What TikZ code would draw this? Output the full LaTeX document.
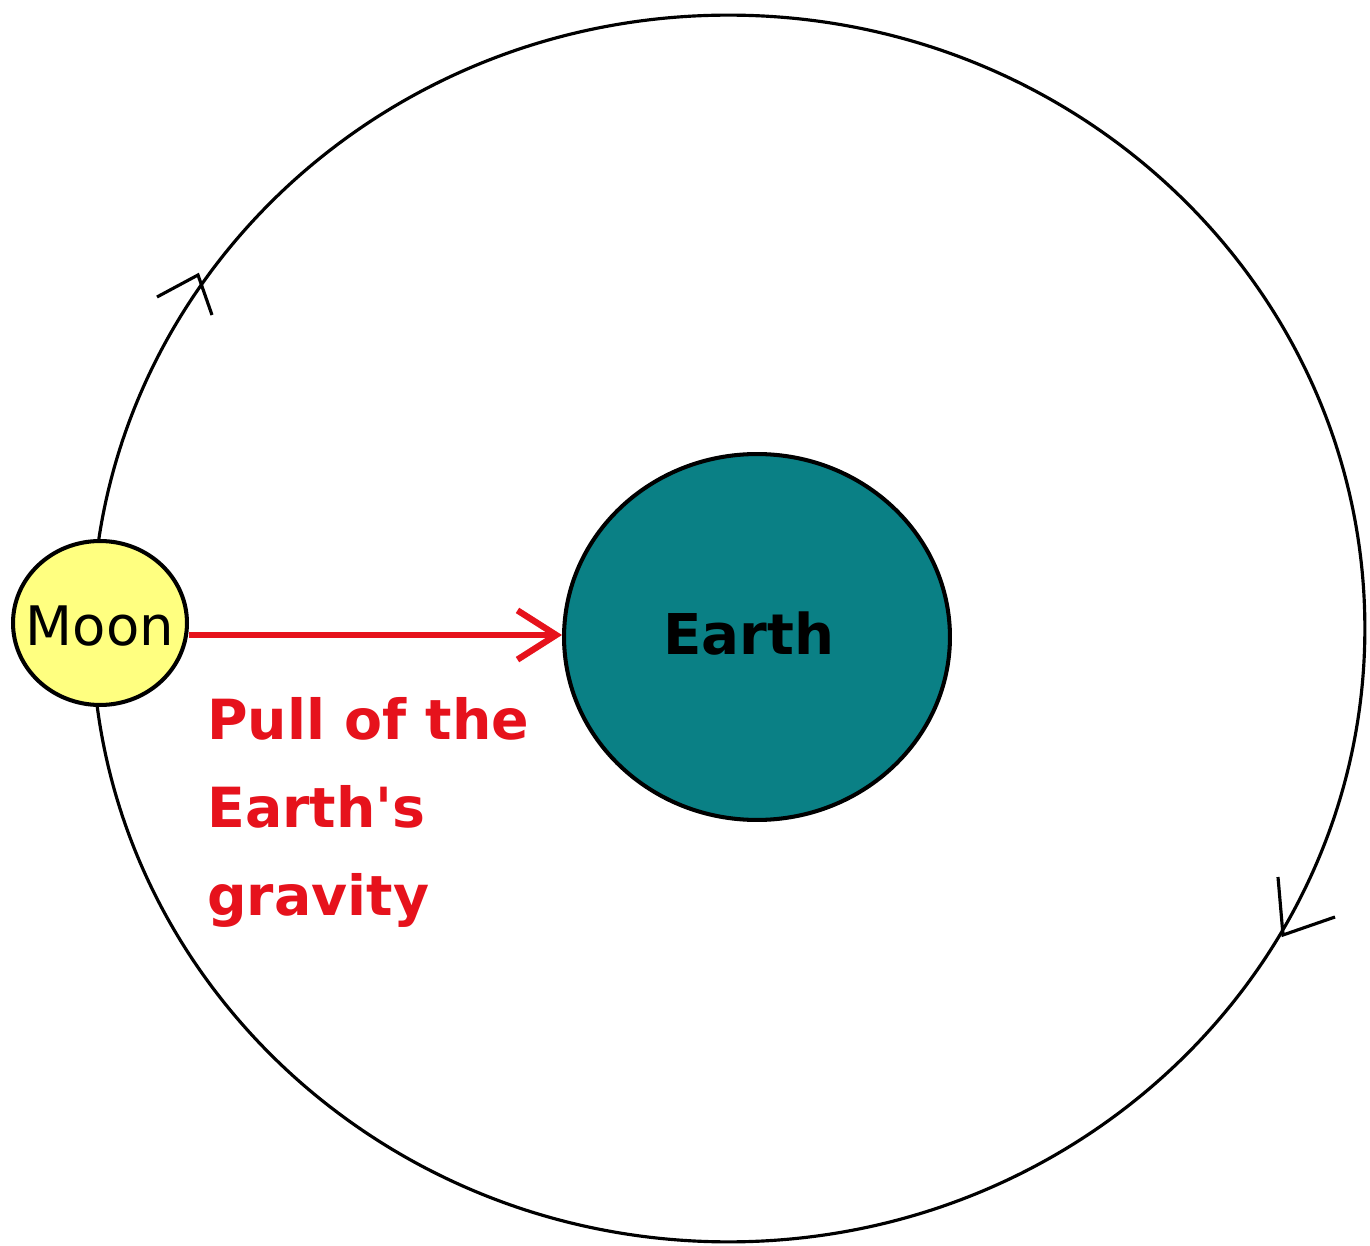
\documentclass[tikz,border=0pt]{standalone}
\usepackage{fontspec}
\setmainfont{DejaVu Sans}
\usetikzlibrary{shapes.geometric,arrows.meta}
\definecolor{earthteal}{RGB}{10,128,133}
\definecolor{moonyellow}{RGB}{255,255,128}
\definecolor{pullred}{RGB}{230,18,28}
\begin{document}
\begin{tikzpicture}[x=0.02cm,y=-0.02cm,
  orbitline/.style={ellipse,draw=black,line width=1.8pt,inner sep=0pt,
    minimum width=25.46cm,minimum height=24.54cm},
  moonbody/.style={ellipse,draw=black,line width=2.3pt,fill=moonyellow,inner sep=0pt,
    minimum width=3.48cm,minimum height=3.28cm},
  earthbody/.style={ellipse,draw=black,line width=2.3pt,fill=earthteal,inner sep=0pt,
    minimum width=7.72cm,minimum height=7.32cm},
  moontext/.style={inner sep=0pt,font=\fontsize{31}{31}\selectfont},
  earthtext/.style={inner sep=0pt,font=\fontsize{32}{32}\selectfont\bfseries},
  pullarrow/.style={draw=pullred,line width=3.6pt,
    -{Straight Barb[length=22pt,width=28pt,line width=3.6pt]}},
  pulltext/.style={text=pullred,align=left,inner sep=0pt,
    font=\fontsize{31.5}{50}\selectfont\bfseries},
  barb/.style={draw=black,line width=1.8pt}]
\useasboundingbox (0,0) rectangle (1370,1246);
\fill[white] (0,0) rectangle (1370,1246);
\node[orbitline] (orbit) at (728.5,628.5) {};
\node[earthbody] (earth) at (757,637) {};
\node[earthtext] (earthlabel) at (749,634) {Earth};
\node[moonbody] (moon) at (100,623) {};
\node[moontext] (moonlabel) at (100,626) {Moon};
\draw[pullarrow] (moon.east |- 0,635) -- (earth.west |- 0,635);
\node[pulltext,anchor=north west] (pull) at (207,697) {Pull of the\\Earth\textquotesingle s\\gravity};
\coordinate (t1) at (198,275);
\coordinate (a1) at (157,297);
\coordinate (b1) at (212,315);
\coordinate (t2) at (1283,935);
\coordinate (a2) at (1278,877);
\coordinate (b2) at (1335,917);
\draw[barb] (a1) -- (t1) -- (b1);
\draw[barb] (a2) -- (t2) -- (b2);
\end{tikzpicture}
\end{document}
